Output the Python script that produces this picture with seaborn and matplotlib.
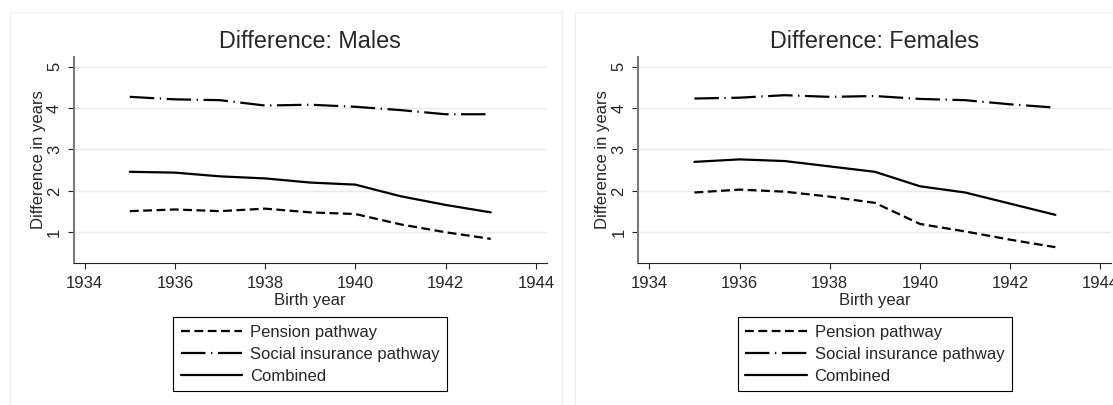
import pandas as pd
import seaborn as sns
import matplotlib.pyplot as plt

# data
years = [1935, 1936, 1937, 1938, 1939, 1940, 1941, 1942, 1943]
male_pension = [1.51, 1.55, 1.51, 1.57, 1.48, 1.44, 1.19, 1.00, 0.84]
male_social = [4.27, 4.21, 4.19, 4.06, 4.08, 4.03, 3.95, 3.85, 3.85]
male_combined = [2.46, 2.44, 2.35, 2.30, 2.20, 2.15, 1.87, 1.66, 1.48]
female_pension = [1.96, 2.03, 1.98, 1.86, 1.71, 1.20, 1.02, 0.82, 0.64]
female_social = [4.23, 4.25, 4.31, 4.27, 4.29, 4.22, 4.19, 4.09, 4.01]
female_combined = [2.70, 2.76, 2.72, 2.59, 2.46, 2.11, 1.96, 1.69, 1.42]
series_names = ['Pension pathway', 'Social insurance pathway', 'Combined']
x_ticks = [1934, 1936, 1938, 1940, 1942, 1944]
y_ticks = [1, 2, 3, 4, 5]


def long_df(pension, social, combined):
    rows = []
    for name, vals in zip(series_names, [pension, social, combined]):
        for yr, v in zip(years, vals):
            rows.append({'year': yr, 'value': v, 'series': name})
    return pd.DataFrame(rows)


df_m = long_df(male_pension, male_social, male_combined)
df_f = long_df(female_pension, female_social, female_combined)

sns.set_style('white')
plt.rcParams['font.family'] = ['Liberation Sans', 'DejaVu Sans']

W, H = 1113, 405
fig = plt.figure(figsize=(W / 100, H / 100), dpi=100)

# light panel frames like a combined Stata graph
for x0, x1 in [(10, 561.7), (575, 1140)]:
    fig.add_artist(plt.Rectangle((x0 / W, -0.1), (x1 - x0) / W, 1.1 - 12.3 / H,
                                 transform=fig.transFigure, fill=False,
                                 edgecolor='#efefef', linewidth=0.9))

dashes = {'Pension pathway': (4, 2),
          'Social insurance pathway': (11, 2.5, 0.6, 2.5),
          'Combined': ''}

panels = [(df_m, 'Difference: Males', 73.7), (df_f, 'Difference: Females', 638.3)]
for data, title, left_px in panels:
    ax = fig.add_axes([left_px / W, (H - 263.3) / H, 473 / W, 206.6 / H])
    sns.lineplot(data=data, x='year', y='value', style='series',
                 dashes=dashes, color='black', linewidth=1.6, ax=ax,
                 legend=True)
    ax.set_xlim(1933.756, 1944.24)
    ax.set_ylim(0.25, 5.24)
    ax.set_xticks(x_ticks)
    ax.set_yticks(y_ticks)
    ax.grid(axis='y', color='#eaeaea', linewidth=1)
    ax.grid(axis='x', visible=False)
    for s in ['top', 'right']:
        ax.spines[s].set_visible(False)
    ax.spines['left'].set_color('#7a7a7a')
    ax.spines['left'].set_linewidth(1.5)
    ax.spines['bottom'].set_color('#222222')
    ax.spines['bottom'].set_linewidth(0.8)
    ax.tick_params(axis='both', direction='out', length=4, width=0.8,
                   color='#222222', labelsize=12, bottom=True, left=True)
    ax.tick_params(axis='x', pad=5.5)
    ax.tick_params(axis='y', pad=4.5)
    for lab in ax.get_yticklabels():
        lab.set_rotation(90)
        lab.set_va('center')
    ax.set_xlabel('Birth year', fontsize=12, labelpad=1)
    ax.set_ylabel('Difference in years', fontsize=12, labelpad=1)
    ax.set_title(title, fontsize=16.8, pad=6)

    cx = (left_px + 473 / 2) / W
    handles, labels = ax.get_legend_handles_labels()
    ax.legend(handles, labels, loc='upper center',
              bbox_to_anchor=(cx, 1 - 317.3 / H), bbox_transform=fig.transFigure,
              fontsize=12, frameon=True, fancybox=False, edgecolor='black',
              framealpha=1, handlelength=3.7, handletextpad=0.45,
              labelspacing=0.42, borderpad=0.45, borderaxespad=0)
    ax.get_legend().get_frame().set_linewidth(0.8)

fig.savefig('out.png', dpi=100)
